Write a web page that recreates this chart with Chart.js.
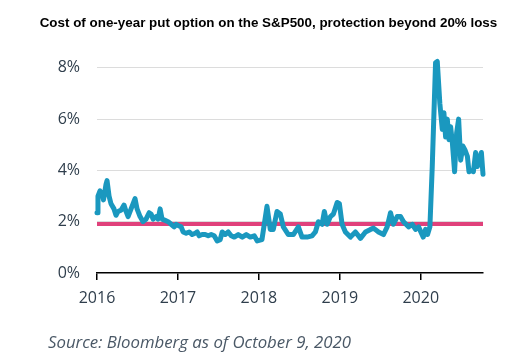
<!DOCTYPE html>
<html>
<head>
<meta charset="utf-8">
<script src="https://cdn.jsdelivr.net/npm/chart.js@4"></script>
<style>
  html, body { margin: 0; padding: 0; background: #fff; }
  #wrap { position: relative; width: 515px; height: 360px; overflow: hidden; }
  #title { position: absolute; left: 0; top: 15px; width: 515px; padding-left: 22px; box-sizing: border-box; text-align: center;
           font: bold 13.4px "Liberation Sans", Arial, sans-serif; color: #000; white-space: nowrap; }
  #source { position: absolute; left: 48px; top: 330px; font: italic 16.8px "Open Sans", sans-serif; color: #4a5866; white-space: nowrap; }
  canvas { position: absolute; left: 0; top: 0; }
</style>
</head>
<body>
<div id="wrap">
  <canvas id="c" width="515" height="360"></canvas>
  <div id="title">Cost of one-year put option on the S&amp;P500, protection beyond 20% loss</div>
  <div id="source">Source: Bloomberg as of October 9, 2020</div>
</div>
<script>
// Decimal-year dates and put option cost (%)
const years = [
  2016.000, 2016.012, 2016.037, 2016.062, 2016.080, 2016.111, 2016.124, 2016.149, 2016.173, 2016.210,
  2016.235, 2016.260, 2016.297, 2016.334, 2016.359, 2016.384, 2016.421, 2016.470, 2016.495, 2016.532,
  2016.569, 2016.606, 2016.644, 2016.668, 2016.693, 2016.730, 2016.755, 2016.780, 2016.804, 2016.842,
  2016.879, 2016.916, 2016.953, 2016.978, 2017.002, 2017.040, 2017.064, 2017.101, 2017.139, 2017.176,
  2017.213, 2017.238, 2017.262, 2017.300, 2017.337, 2017.374, 2017.411, 2017.448, 2017.485, 2017.522,
  2017.547, 2017.584, 2017.621, 2017.658, 2017.696, 2017.745, 2017.795, 2017.844, 2017.894, 2017.943,
  2017.980, 2018.038, 2018.100, 2018.141, 2018.178, 2018.224, 2018.265, 2018.302, 2018.364, 2018.426,
  2018.488, 2018.533, 2018.595, 2018.657, 2018.698, 2018.735, 2018.781, 2018.809, 2018.843, 2018.884,
  2018.921, 2018.967, 2018.995, 2019.028, 2019.069, 2019.131, 2019.193, 2019.255, 2019.317, 2019.379,
  2019.416, 2019.478, 2019.540, 2019.585, 2019.626, 2019.663, 2019.709, 2019.750, 2019.787, 2019.849,
  2019.895, 2019.936, 2019.973, 2020.031, 2020.059, 2020.084, 2020.113, 2020.142, 2020.183, 2020.204,
  2020.236, 2020.266, 2020.286, 2020.307, 2020.328, 2020.348, 2020.369, 2020.390, 2020.418, 2020.443,
  2020.468, 2020.493, 2020.521, 2020.546, 2020.576, 2020.596, 2020.625, 2020.650, 2020.678, 2020.699,
  2020.719, 2020.749, 2020.769
];
const cost = [
  2.35, 3.0, 3.2, 3.1, 2.85, 3.45, 3.6, 3.0, 2.7, 2.5,
  2.25, 2.4, 2.45, 2.65, 2.4, 2.2, 2.5, 2.9, 2.5, 2.2,
  2.0, 2.1, 2.35, 2.3, 2.1, 2.2, 2.1, 2.5, 2.1, 2.05,
  2.0, 1.9, 1.8, 1.9, 1.85, 1.8, 1.6, 1.55, 1.6, 1.5,
  1.55, 1.6, 1.45, 1.5, 1.5, 1.45, 1.5, 1.45, 1.25, 1.3,
  1.6, 1.5, 1.6, 1.45, 1.4, 1.5, 1.4, 1.5, 1.4, 1.45,
  1.25, 1.3, 2.6, 1.7, 1.7, 2.4, 2.3, 1.8, 1.5, 1.5,
  1.8, 1.4, 1.4, 1.45, 1.6, 2.0, 1.9, 2.4, 1.9, 2.2,
  2.3, 2.75, 2.7, 1.9, 1.6, 1.4, 1.6, 1.35, 1.6, 1.7,
  1.75, 1.6, 1.5, 1.8, 2.35, 1.9, 2.2, 2.2, 2.0, 1.8,
  1.9, 1.7, 1.8, 1.4, 1.7, 1.5, 1.8, 4.15, 8.2, 8.25,
  6.6, 5.6, 6.25, 5.3, 6.0, 5.2, 5.7, 5.1, 3.95, 5.45,
  6.0, 4.4, 4.95, 4.8, 4.55, 3.95, 4.0, 3.95, 4.7, 4.15,
  4.4, 4.7, 3.85
];
const thresholdLevel = 1.91;
const yearTicks = [2016, 2017, 2018, 2019, 2020];
const pctTicks = [0, 2, 4, 6, 8];

const tickFont = { family: '"Open Sans", sans-serif', size: 16 };
const tickColor = '#2f3e4c';

new Chart(document.getElementById('c'), {
  type: 'line',
  data: {
    datasets: [
      {
        data: years.map((x, i) => ({ x, y: cost[i] })),
        borderColor: '#1a98bf',
        borderWidth: 5,
        pointRadius: 0,
        tension: 0,
        borderJoinStyle: 'round',
        borderCapStyle: 'round',
        clip: false
      },
      {
        data: [{ x: years[0], y: thresholdLevel }, { x: years[years.length - 1], y: thresholdLevel }],
        borderColor: '#e0417b',
        borderWidth: 4,
        pointRadius: 0,
        borderCapStyle: 'butt',
        clip: false
      }
    ]
  },
  options: {
    responsive: false,
    animation: false,
    layout: { padding: { left: 0, right: 32, top: 55, bottom: 0 } },
    plugins: { legend: { display: false }, tooltip: { enabled: false }, title: { display: false } },
    scales: {
      x: {
        type: 'linear',
        min: years[0],
        max: years[years.length - 1],
        afterBuildTicks: s => { s.ticks = yearTicks.map(v => ({ value: v })); },
        afterFit: s => { s.height = 87; },
        ticks: { font: tickFont, color: tickColor, padding: 9, maxRotation: 0, callback: v => String(v) },
        grid: { drawOnChartArea: false, drawTicks: true, tickLength: 7, color: '#000', lineWidth: 1.5 },
        border: { display: true, color: '#000', width: 1.5 }
      },
      y: {
        min: 0,
        max: 8.5,
        afterBuildTicks: s => { s.ticks = pctTicks.map(v => ({ value: v })); },
        afterFit: s => { s.width = 97; },
        ticks: { font: tickFont, color: tickColor, padding: 17, callback: v => v + '%' },
        grid: { drawTicks: false, color: ctx => ctx.tick && ctx.tick.value === 0 ? 'rgba(0,0,0,0)' : '#dcdcdc', lineWidth: 1 },
        border: { display: false }
      }
    }
  }
});
</script>
</body>
</html>
